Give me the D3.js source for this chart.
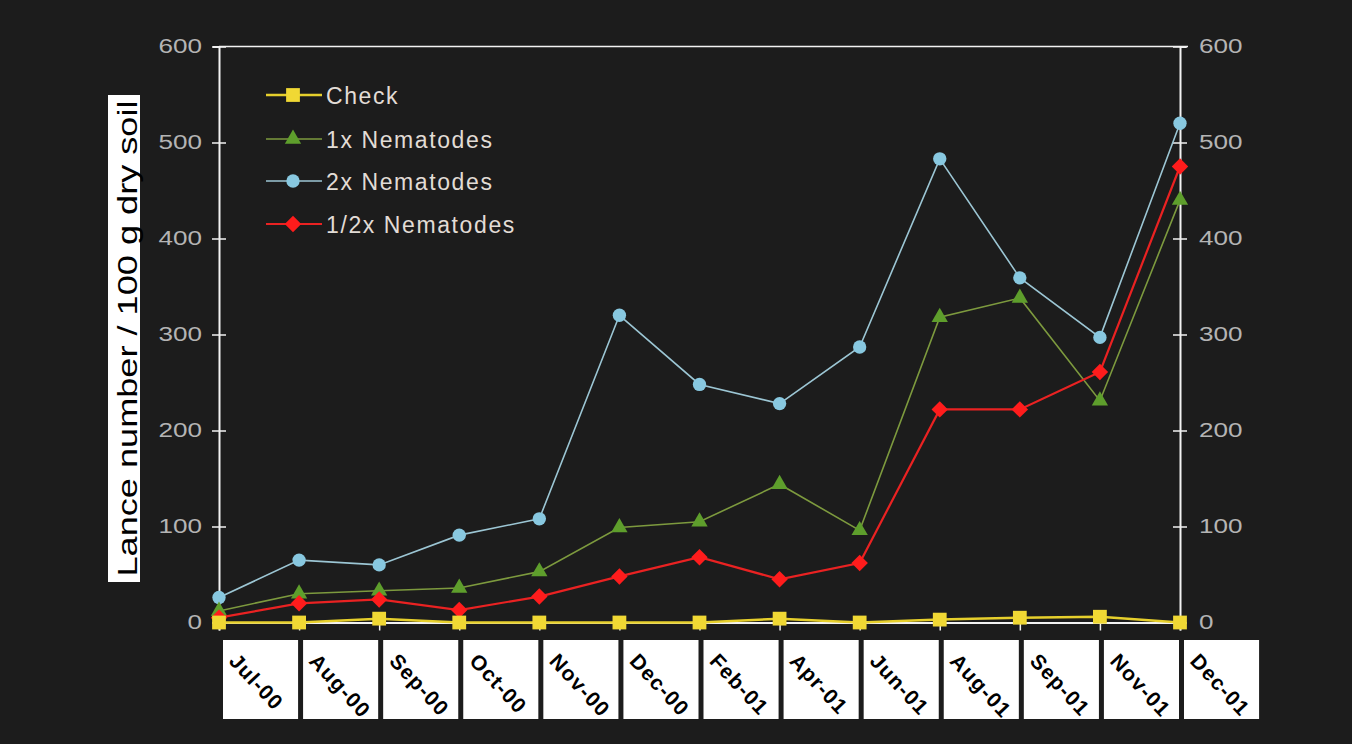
<!DOCTYPE html>
<html>
<head>
<meta charset="utf-8">
<script src="https://cdn.jsdelivr.net/npm/d3@7"></script>
<style>
  html, body { margin: 0; padding: 0; background: #1c1c1c; }
  svg { display: block; }
</style>
</head>
<body>
<svg id="chart" width="1352" height="744"></svg>
<script>
// Sampling dates
const months = ["Jul-00","Aug-00","Sep-00","Oct-00","Nov-00","Dec-00","Feb-01","Apr-01","Jun-01","Aug-01","Sep-01","Nov-01","Dec-01"];

// Lance nematodes per 100 g dry soil, by treatment
const checkVals = [0, 0, 4, 0, 0, 0, 0, 4, 0, 3, 5, 6, 0];
const oneX      = [12, 30, 33, 36, 53, 99, 105, 144, 96, 318, 338, 231, 440];
const twoX      = [26, 65, 60, 91, 108, 320, 248, 228, 287, 483, 359, 297, 520];
const halfX     = [5, 20, 24, 13, 27, 48, 68, 45, 62, 222, 222, 261, 475];

const yTicks = [0, 100, 200, 300, 400, 500, 600];
const seriesNames = ["Check", "1x Nematodes", "2x Nematodes", "1/2x Nematodes"];

const svg = d3.select("#chart");
const W = 1352, H = 744;
svg.append("rect").attr("width", W).attr("height", H).attr("fill", "#1c1c1c");

const x = d3.scalePoint().domain(months).range([219, 1180]).padding(0);
const y = d3.scaleLinear().domain([0, 600]).range([622.5, 46.5]);

const axisColor = "#f2f2f2";
const tickText = "#b4b4b4";
const font = "Liberation Sans, Arial, sans-serif";

// Plot frame top edge
svg.append("line")
  .attr("x1", x.range()[0]).attr("x2", x.range()[1] + 8)
  .attr("y1", y(600)).attr("y2", y(600))
  .attr("stroke", axisColor).attr("stroke-width", 1.5);

// Left value axis
const gL = svg.append("g").attr("transform", `translate(${x.range()[0]},0)`)
  .call(d3.axisLeft(y).tickValues(yTicks).tickSize(6).tickPadding(11));
// Right value axis
const gR = svg.append("g").attr("transform", `translate(${x.range()[1]},0)`)
  .call(d3.axisRight(y).tickValues(yTicks).tickSize(6).tickPadding(13));

[gL, gR].forEach(g => {
  g.select(".domain").attr("stroke", axisColor).attr("stroke-width", 2);
  g.selectAll(".tick line").attr("x1", -7).attr("x2", 7)
    .attr("stroke", axisColor).attr("stroke-width", 1.5);
  g.selectAll(".tick text")
    .attr("fill", tickText)
    .attr("font-family", font)
    .attr("font-size", 20)
    .attr("textLength", d => String(d).length * 14.5)
    .attr("lengthAdjust", "spacingAndGlyphs");
});

// Category axis along zero
const gX = svg.append("g").attr("transform", `translate(0,${y(0)})`)
  .call(d3.axisBottom(x).tickSize(8).tickFormat(""));
gX.select(".domain").attr("stroke", axisColor).attr("stroke-width", 2);
gX.selectAll(".tick line").attr("stroke", axisColor).attr("stroke-width", 1.5);

// Category labels: white boxes with slanted text
const step = x.step();
const lbl = svg.append("g");
lbl.selectAll("rect").data(months).join("rect")
  .attr("x", d => x(d) + 4)
  .attr("y", 640)
  .attr("width", step - 5)
  .attr("height", 79)
  .attr("fill", "#ffffff");
lbl.selectAll("text").data(months).join("text")
  .attr("transform", d => `translate(${x(d) + 9},${662}) rotate(47)`)
  .attr("font-family", font)
  .attr("font-weight", "bold")
  .attr("font-size", 21)
  .attr("letter-spacing", 1.2)
  .attr("fill", "#000")
  .text(d => d);

// Value axis title in a white box
svg.append("rect").attr("x", 108).attr("y", 95).attr("width", 32).attr("height", 487).attr("fill", "#ffffff");
svg.append("text")
  .attr("transform", "translate(136.5,338.5) rotate(-90)")
  .attr("text-anchor", "middle")
  .attr("font-family", font)
  .attr("font-size", 27)
  .attr("textLength", 476)
  .attr("lengthAdjust", "spacingAndGlyphs")
  .attr("fill", "#000")
  .text("Lance number / 100 g dry soil");

// Series definitions
const diamond = { draw(ctx, size) { const r = Math.sqrt(size / 2); ctx.moveTo(0, -r); ctx.lineTo(r, 0); ctx.lineTo(0, r); ctx.lineTo(-r, 0); ctx.closePath(); } };
const series = [
  { name: seriesNames[0], values: checkVals, line: "#e6cf2c", lw: 2.5, fill: "#f0d834", shape: d3.symbolSquare, size: 190 },
  { name: seriesNames[1], values: oneX,      line: "#7d9a3e", lw: 1.6, fill: "#5e9e2c", shape: d3.symbolTriangle, size: 115 },
  { name: seriesNames[2], values: twoX,      line: "#9cc6d4", lw: 1.6, fill: "#88c8e0", shape: d3.symbolCircle, size: 140 },
  { name: seriesNames[3], values: halfX,     line: "#ea2222", lw: 2.2, fill: "#ff1c1c", shape: diamond, size: 135 }
];

const lineGen = d3.line().x((d, i) => x(months[i])).y(d => y(d));

// Draw in back-to-front order so check sits on the axis
const order = [2, 1, 3, 0];
order.forEach(k => {
  const s = series[k];
  const g = svg.append("g");
  g.append("path").datum(s.values)
    .attr("d", lineGen).attr("fill", "none")
    .attr("stroke", s.line).attr("stroke-width", s.lw);
  g.selectAll("path.pt").data(s.values).join("path")
    .attr("class", "pt")
    .attr("transform", (d, i) => `translate(${x(months[i])},${y(d)})`)
    .attr("d", d3.symbol().type(s.shape).size(s.size))
    .attr("fill", s.fill);
});

// Legend
const legend = svg.append("g");
const legendRows = [95, 139, 181, 224];
series.forEach((s, i) => {
  const row = legend.append("g").attr("transform", `translate(0,${legendRows[i]})`);
  row.append("line").attr("x1", 266).attr("x2", 322).attr("y1", 0).attr("y2", 0)
    .attr("stroke", s.line).attr("stroke-width", s.lw);
  row.append("path").attr("transform", "translate(293,0)")
    .attr("d", d3.symbol().type(s.shape).size(s.size)).attr("fill", s.fill);
  row.append("text").attr("x", 326).attr("y", 8.5)
    .attr("font-family", font)
    .attr("font-size", 23)
    .attr("letter-spacing", 1.6)
    .attr("fill", "#e2dcd6")
    .text(s.name);
});
</script>
</body>
</html>
